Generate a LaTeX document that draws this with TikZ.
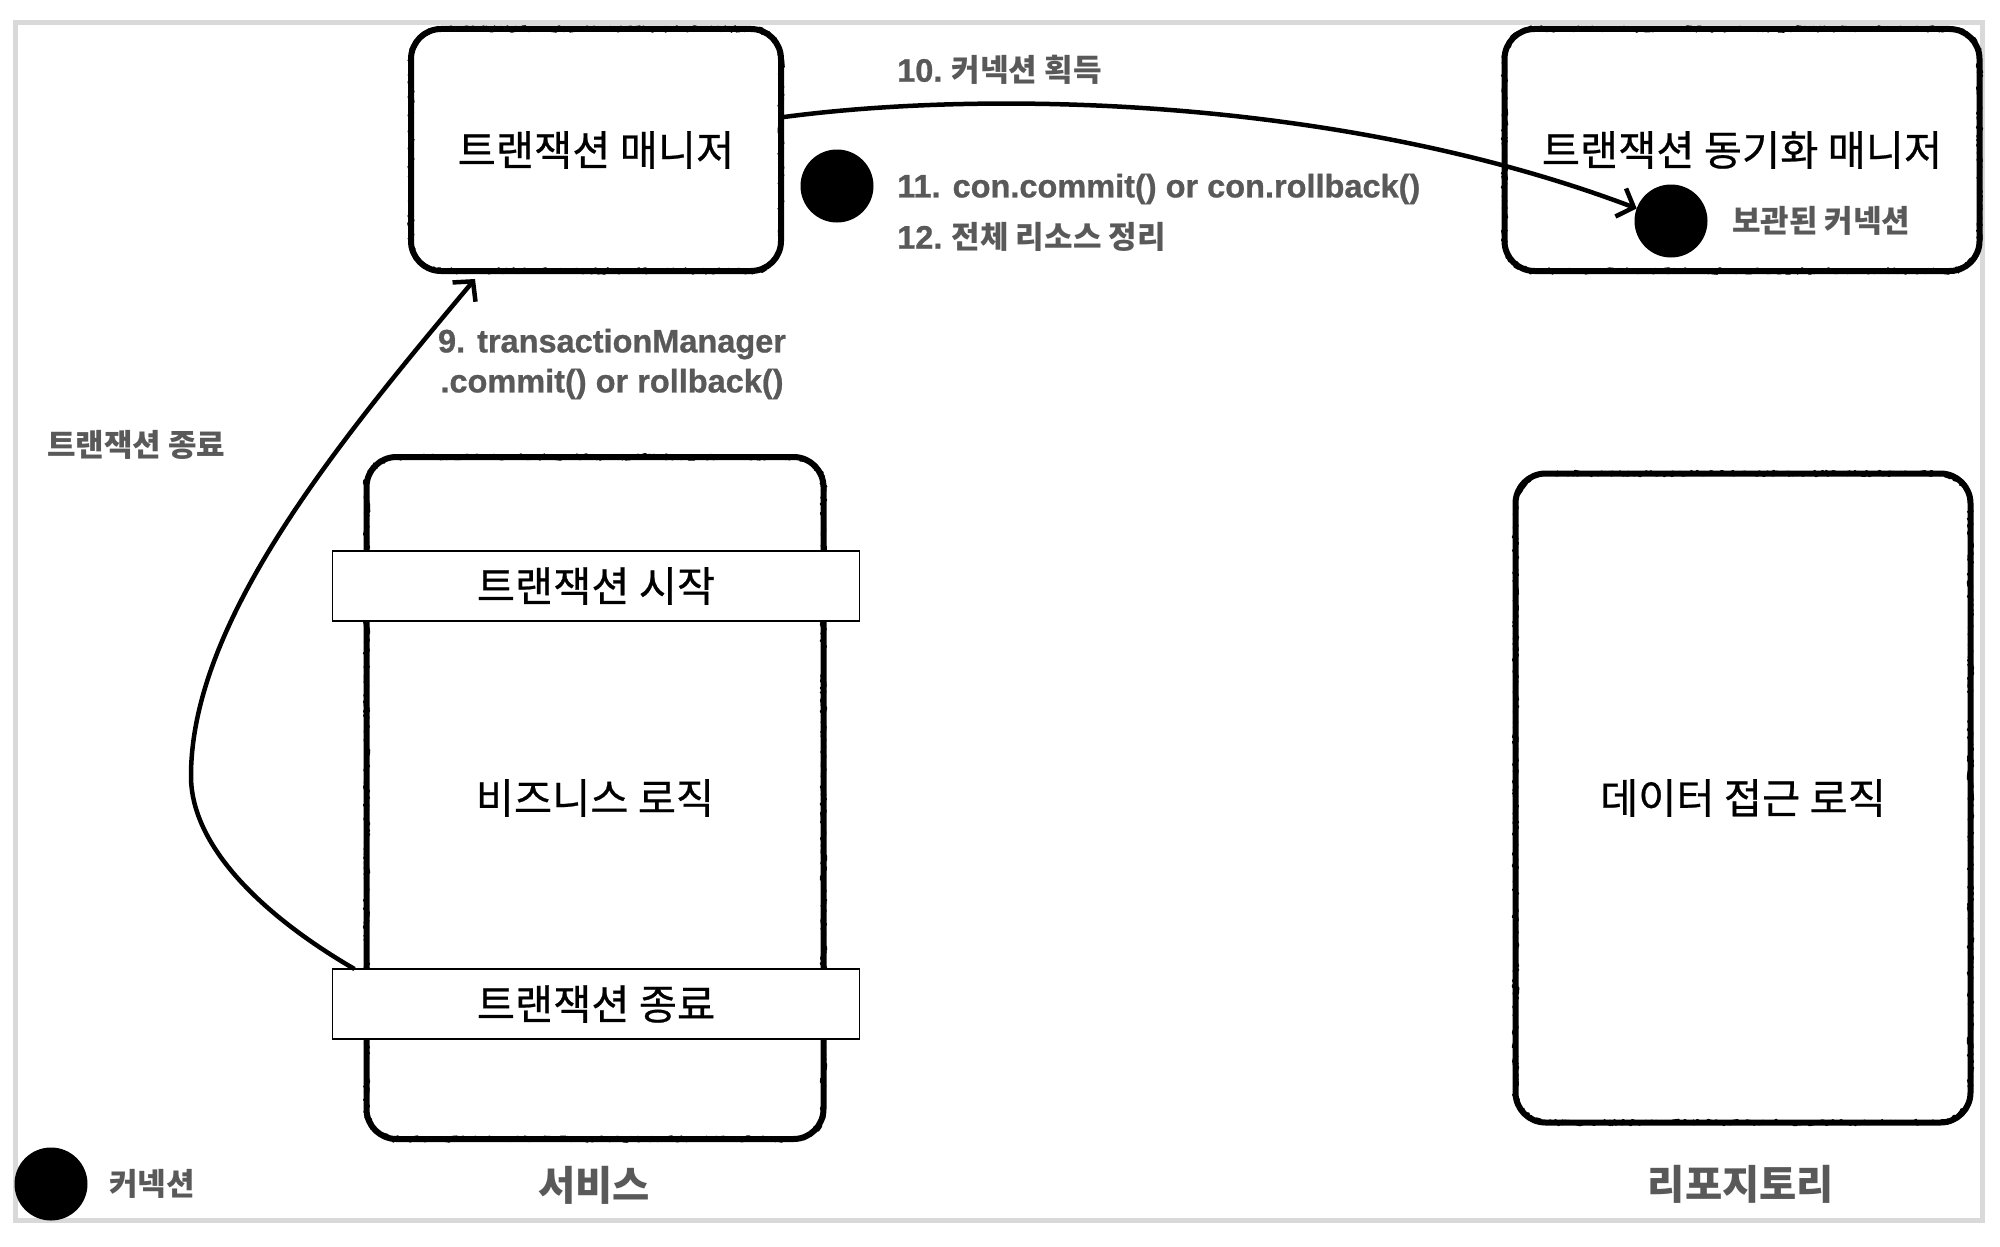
\documentclass[tikz,border=0pt]{standalone}
\usepackage{fontspec}
\newfontfamily\kr{Noto Sans CJK KR}
\newfontfamily\krm{Noto Sans CJK KR}[FakeBold=0.6]
\newfontfamily\latf{Liberation Sans}[BoldFont={Liberation Sans Bold}, BoldFeatures={FakeBold=0.8}]
\usetikzlibrary{arrows.meta,decorations.pathmorphing,calc}
\definecolor{txtgray}{HTML}{595959}
\definecolor{framegray}{HTML}{D9D9D9}
\newcommand\lat[1]{{\latf\bfseries\fontsize{32.5}{40}\selectfont #1}}
\newcommand\roughborder[2]{%
  \pgfmathsetmacro\rk{0.45*#2}%
  \draw[roughline]
    ([xshift=#2pt]#1.north west) -- ([xshift=-#2pt]#1.north east)
    .. controls ([xshift=-\rk pt]#1.north east) and ([yshift=-\rk pt]#1.north east) .. ([yshift=-#2pt]#1.north east)
    -- ([yshift=#2pt]#1.south east)
    .. controls ([yshift=\rk pt]#1.south east) and ([xshift=-\rk pt]#1.south east) .. ([xshift=-#2pt]#1.south east)
    -- ([xshift=#2pt]#1.south west)
    .. controls ([xshift=\rk pt]#1.south west) and ([yshift=\rk pt]#1.south west) .. ([yshift=#2pt]#1.south west)
    -- ([yshift=-#2pt]#1.north west)
    .. controls ([yshift=-\rk pt]#1.north west) and ([xshift=\rk pt]#1.north west) .. cycle;%
}
\begin{document}
\begin{tikzpicture}[x=1pt,y=-1pt,
  roughbox/.style={draw=black, line width=6pt, rounded corners=30pt, outer sep=0pt, inner sep=0pt,
    font=\krm\fontsize{41.5}{50}\selectfont, align=center},
  roughline/.style={draw=black, line width=2.4pt, line join=round, decorate,
    decoration={random steps, segment length=2pt, amplitude=2.6pt}},
  barbox/.style={draw=black, line width=1.8pt, fill=white, outer sep=0pt, inner sep=0pt,
    minimum width=527pt, minimum height=70pt, font=\krm\fontsize{41.5}{50}\selectfont},
  graylbl/.style={inner sep=0pt, text=txtgray, font=\kr\bfseries\fontsize{31}{37}\selectfont},
  titlelbl/.style={inner sep=0pt, text=txtgray, font=\kr\bfseries\fontsize{40.5}{48}\selectfont},
  conndot/.style={circle, fill=black, draw=none, minimum size=73pt, inner sep=0pt, outer sep=0pt},
  arr/.style={draw=black, line width=4.5pt, -{Straight Barb[length=14pt,width=30pt,line width=4.5pt]}}
]
\pgfmathsetseed{7}
\useasboundingbox (0,0) rectangle (2000,1247);
\fill[white] (0,0) rectangle (2000,1247);
\draw[framegray, line width=5pt] (15,23) rectangle (1982,1220);

% boxes
\node[roughbox, minimum width=370pt, minimum height=242pt] (tm) at (596,150) {트랜잭션 매니저};
\roughborder{tm}{30}
\node[roughbox, minimum width=475pt, minimum height=242pt] (sm) at (1742,150) {트랜잭션 동기화 매니저};
\roughborder{sm}{30}
\node[roughbox, minimum width=457pt, minimum height=682pt] (svc) at (595,798) {비즈니스 로직};
\roughborder{svc}{30}
\node[roughbox, minimum width=455pt, minimum height=649pt] (repo) at (1743,798) {데이터 접근 로직};
\roughborder{repo}{32}

% bars
\node[barbox] (startbar) at (596,586) {트랜잭션 시작};
\node[barbox] (endbar) at (596,1004) {트랜잭션 종료};

% connection dots
\node[conndot] (mdot) at (837,186) {};
\node[conndot] (sdot) at (1671,221) {};
\node[conndot] (ldot) at (51,1184) {};

% labels
\node[graylbl, anchor=west] (l10) at (897,70) {\lat{10.} 커넥션 획득};
\node[graylbl, anchor=west] (l11) at (897,189) {\lat{11. con.commit() or con.rollback()}};
\node[graylbl, anchor=west] (l12) at (897,237) {\lat{12.} 전체 리소스 정리};
\node[inner sep=0pt, text=txtgray, font=\latf\bfseries\fontsize{32.5}{40}\selectfont, align=center] (l9) at (612,364)
  {9. transactionManager\\.commit() or rollback()};
\node[graylbl, anchor=west] (lend) at (47,445) {트랜잭션 종료};
\node[graylbl, anchor=west] (lkept) at (1732,221) {보관된 커넥션};
\node[graylbl, anchor=west] (lconn) at (109,1184) {커넥션};
\node[titlelbl] (tsvc) at (594,1185) {서비스};
\node[titlelbl] (trepo) at (1741,1184) {리포지토리};

% arrows
\draw[arr] (tm.10) .. controls (1000,88) and (1350,100) .. (sdot.160);
\draw[arr] ([xshift=22pt]endbar.north west) .. controls (270,920) and (191,850) .. (191,776)
  .. controls (191,620) and (340,440) .. ([xshift=-121pt,yshift=-8pt]tm.south);
\end{tikzpicture}
\end{document}
